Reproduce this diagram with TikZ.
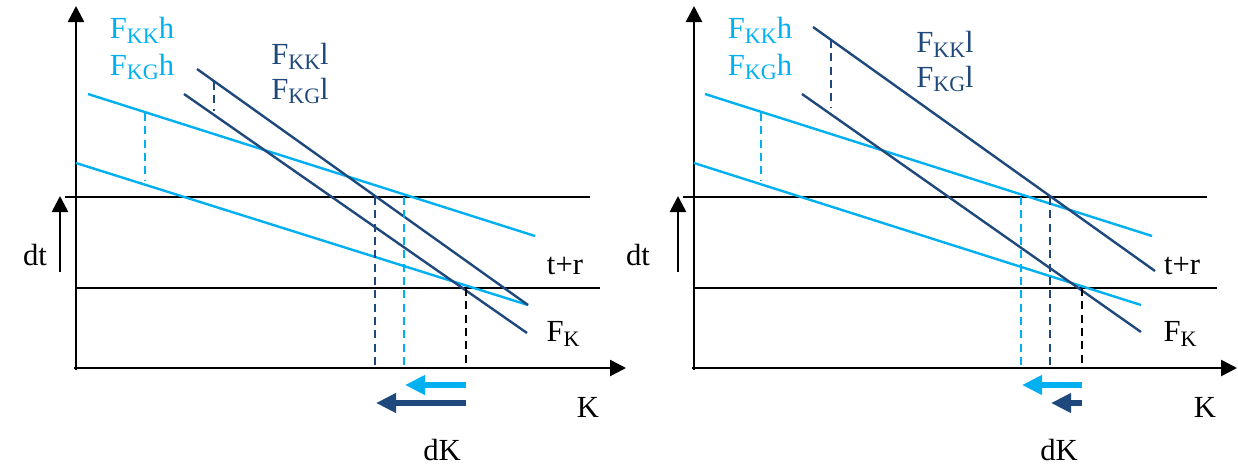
\documentclass[tikz,border=0pt]{standalone}
\usepackage{fontspec}
\setmainfont{Liberation Serif}
\usetikzlibrary{arrows.meta}
\definecolor{skyline}{HTML}{00B0F0}
\definecolor{navyline}{HTML}{1F497D}
\newcommand{\lowsub}[1]{\raisebox{-0.35ex}{\scalebox{0.72}{#1}}}
\tikzset{
  axis/.style={line width=2pt,-{Triangle[length=12pt,width=12pt]}},
  level/.style={line width=1.2pt},
  hcurve/.style={skyline,line width=1.8pt},
  lcurve/.style={navyline,line width=1.8pt},
  guide/.style={line width=1.6pt,dash pattern=on 6pt off 4pt},
  shiftarrow/.style={line width=5pt,-{Triangle[length=15pt,width=14pt]}},
  biglabel/.style={font=\fontsize{23}{27}\selectfont},
  midlabel/.style={font=\fontsize{23}{27}\selectfont},
}

\begin{document}
\begin{tikzpicture}[x=0.75pt,y=-0.75pt]
    \useasboundingbox (0,0) rectangle (1238,468);
    % left panel
    \draw[axis] (76,370) -- (76,6);
    \draw[axis] (74,368) -- (626,368);
    \draw[level] (65,197) -- (590,197);
    \draw[level] (76,288) -- (600,288);
    \draw[axis] (60,272) -- (60,196);
    \draw[hcurve] (88,94) -- (535,236);
    \draw[hcurve] (76,163) -- (528,305);
    \draw[lcurve] (197,69) -- (528,305);
    \draw[lcurve] (184,94) -- (527,333);
    \draw[guide,skyline] (145,113) -- (145,181);
    \draw[guide,navyline] (214,82) -- (214,111);
    \draw[guide,navyline] (375,197) -- (375,368);
    \draw[guide,skyline] (404,197) -- (404,368);
    \draw[guide] (466,288) -- (466,368);
    \draw[shiftarrow,skyline] (466,385) -- (405,385);
    \draw[shiftarrow,navyline] (466,403) -- (376,403);
    \node[biglabel,skyline] (kkhL) at (142,30) {F\lowsub{KK}h};
    \node[biglabel,skyline] (kghL) at (142,67) {F\lowsub{KG}h};
    \node[biglabel,navyline] (kklL) at (300,56) {F\lowsub{KK}l};
    \node[biglabel,navyline] (kglL) at (300,91) {F\lowsub{KG}l};
    \node[midlabel] (dtL) at (35,255) {dt};
    \node[midlabel] (trL) at (565,266) {t+r};
    \node[midlabel] (fkL) at (563,334) {F\lowsub{K}};
    \node[midlabel] (kL) at (588,407) {K};
    \node[midlabel] (dkL) at (442,450) {dK};
    % right panel
    \draw[axis] (694,370) -- (694,6);
    \draw[axis] (692,368) -- (1237,368);
    \draw[level] (683,197) -- (1207,197);
    \draw[level] (694,288) -- (1217,288);
    \draw[axis] (678,272) -- (678,196);
    \draw[hcurve] (705,94) -- (1152,236);
    \draw[hcurve] (694,163) -- (1141,305);
    \draw[lcurve] (813,27) -- (1155,271);
    \draw[lcurve] (802,94) -- (1141,332);
    \draw[guide,skyline] (761,113) -- (761,181);
    \draw[guide,navyline] (831,40) -- (831,107);
    \draw[guide,skyline] (1021,197) -- (1021,368);
    \draw[guide,navyline] (1050,197) -- (1050,368);
    \draw[guide] (1082,288) -- (1082,368);
    \draw[shiftarrow,skyline] (1082,385) -- (1022,385);
    \draw[shiftarrow,navyline] (1082,403) -- (1051,403);
    \node[biglabel,skyline] (kkhR) at (760,30) {F\lowsub{KK}h};
    \node[biglabel,skyline] (kghR) at (760,67) {F\lowsub{KG}h};
    \node[biglabel,navyline] (kklR) at (945,44) {F\lowsub{KK}l};
    \node[biglabel,navyline] (kglR) at (945,79) {F\lowsub{KG}l};
    \node[midlabel] (dtR) at (638,255) {dt};
    \node[midlabel] (trR) at (1182,266) {t+r};
    \node[midlabel] (fkR) at (1180,334) {F\lowsub{K}};
    \node[midlabel] (kR) at (1205,407) {K};
    \node[midlabel] (dkR) at (1059,450) {dK};
\end{tikzpicture}
\end{document}
